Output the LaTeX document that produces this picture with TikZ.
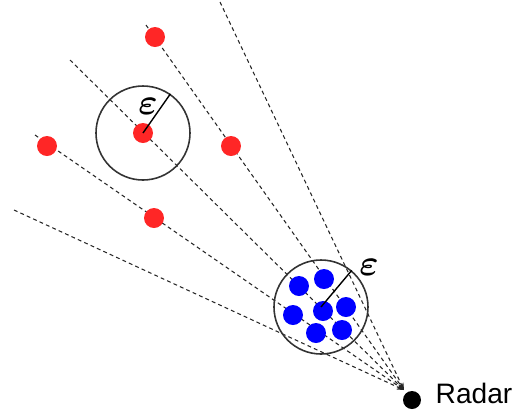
\documentclass[tikz,border=0pt]{standalone}
\usepackage{fontspec}
\setsansfont{Liberation Sans}
\usepackage{tikz}
\usetikzlibrary{arrows.meta}

\newcommand{\unit}{0.02cm}
\tikzset{
  reddot/.style={circle,fill=red!85!white,inner sep=0pt,minimum size=20*\unit},
  bluedot/.style={circle,fill=blue,inner sep=0pt,minimum size=20*\unit},
  beam/.style={dash pattern=on 2.2pt off 1.8pt,black!85,line width=0.6pt,-{Stealth[length=4pt,width=3pt]}},
  ring/.style={circle,draw=black!80,line width=0.9pt,inner sep=0pt,minimum size=94*\unit},
  epslbl/.style={font=\fontsize{21}{24}\selectfont\boldmath},
}

\begin{document}
\begin{tikzpicture}[x=0.02cm,y=-0.02cm]
\useasboundingbox (0,0) rectangle (515,414);
% radar and beam origins
\node[circle,fill=black,inner sep=0pt,minimum size=18*\unit] (radar) at (412,400) {};
\node[font=\sffamily\fontsize{16}{19}\selectfont] (radarlbl) at (474,393) {Radar};
\coordinate (tip) at (404,390);
\coordinate (s1) at (220,2);
\coordinate (s2) at (146,25);
\coordinate (s3) at (70,60);
\coordinate (s4) at (35,135);
\coordinate (s5) at (14,210);
\foreach \s in {s1,s2,s3,s4,s5} { \draw[beam] (\s) -- (tip); }
% range rings
\node[ring] (ringA) at (143,133) {};
\node[ring] (ringB) at (321,307) {};
% red targets
\node[reddot] (r1) at (155,37) {};
\node[reddot] (r2) at (231,146) {};
\node[reddot] (r3) at (143,133) {};
\node[reddot] (r4) at (47,146) {};
\node[reddot] (r5) at (154,218) {};
% blue cluster
\foreach \n/\x/\y in {b1/299/286,b2/324/279,b3/293/315,b4/323/311,b5/346/307,b6/316/333,b7/342/330}
  { \node[bluedot] (\n) at (\x,\y) {}; }
% radius marks
\draw[line width=0.8pt] (ringA.center) -- (ringA.55);
\draw[line width=0.8pt] (ringB.center) -- (ringB.50);
\node[epslbl] (epsA) at (148,106) {$\varepsilon$};
\node[epslbl] (epsB) at (369,267) {$\varepsilon$};
\end{tikzpicture}
\end{document}
